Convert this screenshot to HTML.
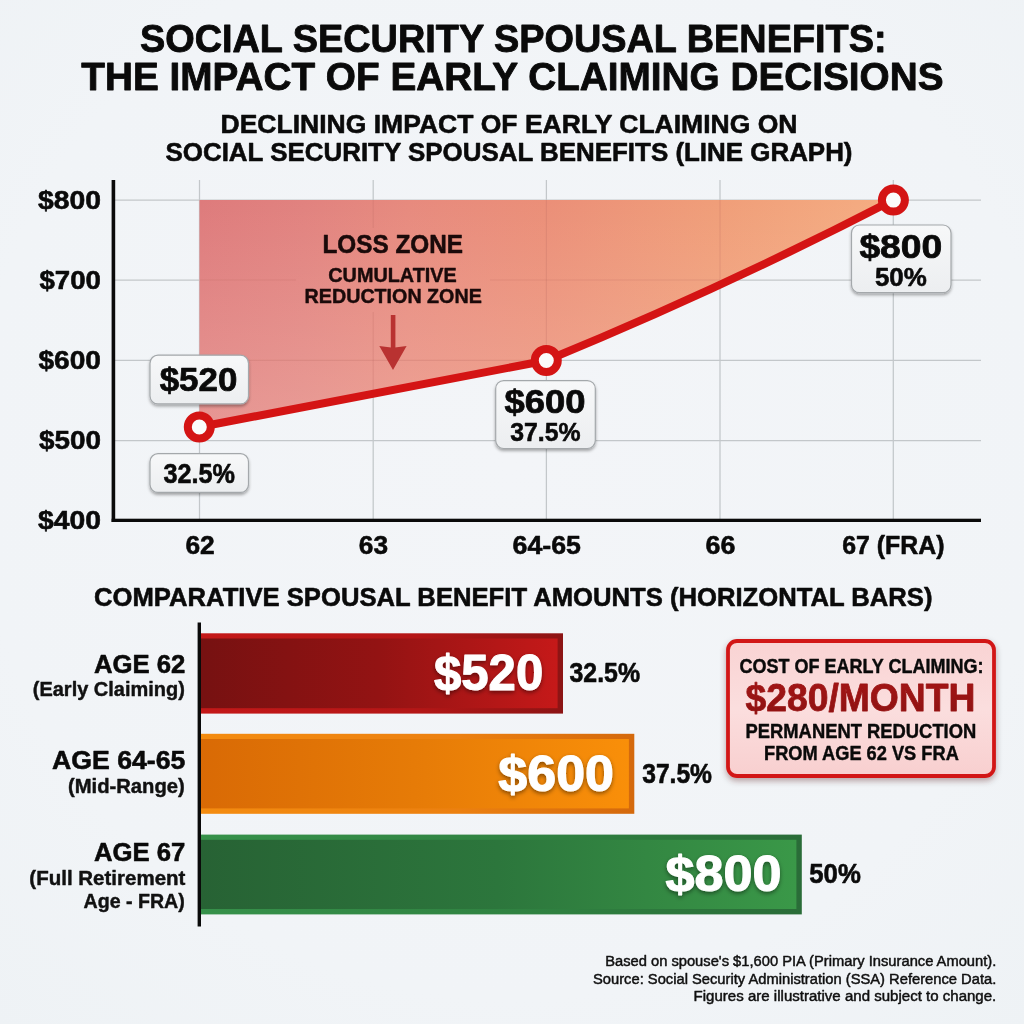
<!DOCTYPE html>
<html lang="en"><head><meta charset="utf-8">
<title>Social Security Spousal Benefits: The Impact of Early Claiming Decisions</title>
<style>
html,body{margin:0;padding:0;background:#f1f4f7;}
body{width:1024px;height:1024px;overflow:hidden;}
svg{display:block;font-family:"Liberation Sans",sans-serif;}
</style></head><body>
<svg width="1024" height="1024" viewBox="0 0 1024 1024">
<defs>
<radialGradient id="bg" cx="50%" cy="45%" r="75%">
<stop offset="0" stop-color="#f3f5f8"/><stop offset="0.7" stop-color="#f1f4f7"/><stop offset="1" stop-color="#eef2f5"/>
</radialGradient>
<linearGradient id="zone" x1="200" y1="0" x2="893" y2="0" gradientUnits="userSpaceOnUse">
<stop offset="0" stop-color="#de7b7c"/><stop offset="0.15" stop-color="#e1827f"/><stop offset="0.3" stop-color="#e78a7e"/><stop offset="0.5" stop-color="#eb8f78"/><stop offset="0.75" stop-color="#f09e79"/><stop offset="1" stop-color="#f5ad82"/>
</linearGradient>
<linearGradient id="zoneV" x1="0" y1="200" x2="0" y2="430" gradientUnits="userSpaceOnUse">
<stop offset="0" stop-color="#ffe6d8" stop-opacity="0"/><stop offset="1" stop-color="#ffe6d8" stop-opacity="0.26"/>
</linearGradient>
<linearGradient id="r1o" x1="0" x2="1"><stop offset="0" stop-color="#c41818"/><stop offset="0.6" stop-color="#b41616"/><stop offset="1" stop-color="#8c1414"/></linearGradient>
<linearGradient id="r1i" x1="0" x2="1"><stop offset="0" stop-color="#761111"/><stop offset="0.5" stop-color="#931313"/><stop offset="1" stop-color="#c51919"/></linearGradient>
<linearGradient id="o1o" x1="0" x2="1"><stop offset="0" stop-color="#f48c10"/><stop offset="0.6" stop-color="#ec8010"/><stop offset="1" stop-color="#d4690c"/></linearGradient>
<linearGradient id="o1i" x1="0" x2="1"><stop offset="0" stop-color="#d96a05"/><stop offset="0.5" stop-color="#e67b07"/><stop offset="1" stop-color="#f98f09"/></linearGradient>
<linearGradient id="g1o" x1="0" x2="1"><stop offset="0" stop-color="#36914a"/><stop offset="0.6" stop-color="#2f8040"/><stop offset="1" stop-color="#2a6c38"/></linearGradient>
<linearGradient id="g1i" x1="0" x2="1"><stop offset="0" stop-color="#276234"/><stop offset="0.5" stop-color="#2c763c"/><stop offset="1" stop-color="#3a9848"/></linearGradient>
<linearGradient id="lbox" x1="0" y1="0" x2="0" y2="1"><stop offset="0" stop-color="#f7f8f9"/><stop offset="1" stop-color="#eceef0"/></linearGradient>
<linearGradient id="ibox" x1="0" y1="0" x2="0" y2="1"><stop offset="0" stop-color="#f9d3d3"/><stop offset="0.5" stop-color="#fbdede"/><stop offset="1" stop-color="#f8cfcf"/></linearGradient>
<linearGradient id="big" x1="0" y1="0" x2="0" y2="1"><stop offset="0" stop-color="#a81616"/><stop offset="1" stop-color="#8a1212"/></linearGradient>
<filter id="sh" x="-20%" y="-20%" width="140%" height="160%"><feDropShadow dx="0" dy="2" stdDeviation="1.6" flood-color="#000" flood-opacity="0.33"/></filter>
<filter id="sh2" x="-20%" y="-20%" width="140%" height="160%"><feDropShadow dx="0" dy="3" stdDeviation="3" flood-color="#400" flood-opacity="0.35"/></filter>
<filter id="tsh" x="-20%" y="-20%" width="140%" height="150%"><feDropShadow dx="0" dy="2" stdDeviation="2" flood-color="#000" flood-opacity="0.45"/></filter>
</defs>
<rect width="1024" height="1024" fill="url(#bg)"/>

<text x="140.0" y="51.8" font-size="39" font-weight="700" fill="#0a0a0a" textLength="746.5" lengthAdjust="spacingAndGlyphs" stroke="#0a0a0a" stroke-width="0.86" stroke-linejoin="round">SOCIAL SECURITY SPOUSAL BENEFITS:</text>
<text x="81.3" y="89.9" font-size="38.5" font-weight="700" fill="#0a0a0a" textLength="862.2" lengthAdjust="spacingAndGlyphs" stroke="#0a0a0a" stroke-width="0.85" stroke-linejoin="round">THE IMPACT OF EARLY CLAIMING DECISIONS</text>
<text x="220.5" y="132.8" font-size="26" font-weight="700" fill="#0a0a0a" textLength="577.0" lengthAdjust="spacingAndGlyphs" stroke="#0a0a0a" stroke-width="0.57" stroke-linejoin="round">DECLINING IMPACT OF EARLY CLAIMING ON</text>
<text x="165.5" y="160.8" font-size="26" font-weight="700" fill="#0a0a0a" textLength="687.0" lengthAdjust="spacingAndGlyphs" stroke="#0a0a0a" stroke-width="0.57" stroke-linejoin="round">SOCIAL SECURITY SPOUSAL BENEFITS (LINE GRAPH)</text>
<g stroke="#c3c7ca" stroke-width="1.25" fill="none">
<line x1="199.5" y1="180" x2="199.5" y2="519"/>
<line x1="373.2" y1="180" x2="373.2" y2="519"/>
<line x1="546.4" y1="180" x2="546.4" y2="519"/>
<line x1="720" y1="180" x2="720" y2="519"/>
<line x1="893.3" y1="180" x2="893.3" y2="519"/>
<line x1="115" y1="200" x2="981" y2="200"/>
<line x1="115" y1="280" x2="981" y2="280"/>
<line x1="115" y1="360.3" x2="981" y2="360.3"/>
<line x1="115" y1="440.5" x2="981" y2="440.5"/>
</g>
<path d="M199.5,200 L893.3,200 Q723.3,287.8 546.4,360.5 L199.5,427 Z" fill="url(#zone)"/>
<path d="M199.5,200 L893.3,200 Q723.3,287.8 546.4,360.5 L199.5,427 Z" fill="url(#zoneV)"/>
<g stroke="#b86a62" stroke-opacity="0.24" stroke-width="1.2">
<line x1="373.2" y1="200" x2="373.2" y2="228"/><line x1="373.2" y1="312" x2="373.2" y2="393"/><line x1="546.4" y1="200" x2="546.4" y2="360"/><line x1="720" y1="200" x2="720" y2="280"/>
<line x1="200" y1="280" x2="296" y2="280"/><line x1="490" y1="280" x2="720" y2="280"/><line x1="200" y1="360.3" x2="546" y2="360.3"/>
</g>
<rect x="111.6" y="180" width="3.6" height="342" fill="#0a0a0a"/>
<rect x="111.6" y="518.7" width="869.4" height="3.3" fill="#0a0a0a"/>
<text x="38.0" y="209.2" font-size="26.5" font-weight="700" fill="#0a0a0a" textLength="63.0" lengthAdjust="spacingAndGlyphs" stroke="#0a0a0a" stroke-width="0.58" stroke-linejoin="round">$800</text>
<text x="39.5" y="289.2" font-size="26.5" font-weight="700" fill="#0a0a0a" textLength="61.5" lengthAdjust="spacingAndGlyphs" stroke="#0a0a0a" stroke-width="0.58" stroke-linejoin="round">$700</text>
<text x="38.5" y="369.0" font-size="26.5" font-weight="700" fill="#0a0a0a" textLength="62.5" lengthAdjust="spacingAndGlyphs" stroke="#0a0a0a" stroke-width="0.58" stroke-linejoin="round">$600</text>
<text x="39.0" y="449.1" font-size="26.5" font-weight="700" fill="#0a0a0a" textLength="62.0" lengthAdjust="spacingAndGlyphs" stroke="#0a0a0a" stroke-width="0.58" stroke-linejoin="round">$500</text>
<text x="38.0" y="528.8" font-size="26.5" font-weight="700" fill="#0a0a0a" textLength="63.0" lengthAdjust="spacingAndGlyphs" stroke="#0a0a0a" stroke-width="0.58" stroke-linejoin="round">$400</text>
<text x="185.4" y="554.2" font-size="25" font-weight="700" fill="#0a0a0a" textLength="29.3" lengthAdjust="spacingAndGlyphs" stroke="#0a0a0a" stroke-width="0.55" stroke-linejoin="round">62</text>
<text x="358.8" y="554.2" font-size="25" font-weight="700" fill="#0a0a0a" textLength="29.2" lengthAdjust="spacingAndGlyphs" stroke="#0a0a0a" stroke-width="0.55" stroke-linejoin="round">63</text>
<text x="512.6" y="554.2" font-size="25" font-weight="700" fill="#0a0a0a" textLength="68.4" lengthAdjust="spacingAndGlyphs" stroke="#0a0a0a" stroke-width="0.55" stroke-linejoin="round">64-65</text>
<text x="705.6" y="554.2" font-size="25" font-weight="700" fill="#0a0a0a" textLength="29.8" lengthAdjust="spacingAndGlyphs" stroke="#0a0a0a" stroke-width="0.55" stroke-linejoin="round">66</text>
<text x="842.2" y="554.2" font-size="25" font-weight="700" fill="#0a0a0a" textLength="102.3" lengthAdjust="spacingAndGlyphs" stroke="#0a0a0a" stroke-width="0.55" stroke-linejoin="round">67 (FRA)</text>
<text x="322.5" y="252.5" font-size="25.5" font-weight="700" fill="#1a0a0a" textLength="140.5" lengthAdjust="spacingAndGlyphs" stroke="#1a0a0a" stroke-width="0.56" stroke-linejoin="round">LOSS ZONE</text>
<text x="328.3" y="281.8" font-size="20.8" font-weight="700" fill="#1a0a0a" textLength="128.4" lengthAdjust="spacingAndGlyphs" stroke="#1a0a0a" stroke-width="0.46" stroke-linejoin="round">CUMULATIVE</text>
<text x="304.6" y="303.4" font-size="20.8" font-weight="700" fill="#1a0a0a" textLength="177.2" lengthAdjust="spacingAndGlyphs" stroke="#1a0a0a" stroke-width="0.46" stroke-linejoin="round">REDUCTION ZONE</text>
<g fill="#b52a2a" opacity="0.92"><rect x="390.8" y="315" width="4.6" height="33"/><polygon points="379.3,346 393,347.8 406.6,346 393,370"/></g>
<path d="M199.5,427 L546.4,360.5 Q723.3,287.8 893.3,200" fill="none" stroke="#d41414" stroke-width="8" stroke-linejoin="round" stroke-linecap="round"/>
<circle cx="199.3" cy="427" r="11.5" fill="#fbfbfb" stroke="#d41414" stroke-width="8"/>
<circle cx="546.3" cy="360.5" r="11.5" fill="#fbfbfb" stroke="#d41414" stroke-width="8"/>
<circle cx="893.4" cy="200.1" r="11.5" fill="#fbfbfb" stroke="#d41414" stroke-width="8"/>
<rect x="150" y="355.2" width="98.5" height="48.7" rx="8" ry="8" fill="url(#lbox)" stroke="#a4a8ab" stroke-width="1.2" filter="url(#sh)"/>
<text x="159.7" y="390.6" font-size="33.5" font-weight="700" fill="#0a0a0a" textLength="77.6" lengthAdjust="spacingAndGlyphs" stroke="#0a0a0a" stroke-width="0.74" stroke-linejoin="round">$520</text>
<rect x="150" y="453.7" width="98.5" height="38.7" rx="8" ry="8" fill="url(#lbox)" stroke="#a4a8ab" stroke-width="1.2" filter="url(#sh)"/>
<text x="163.5" y="483.0" font-size="27.5" font-weight="700" fill="#0a0a0a" textLength="71.5" lengthAdjust="spacingAndGlyphs" stroke="#0a0a0a" stroke-width="0.6" stroke-linejoin="round">32.5%</text>
<rect x="495.7" y="380.6" width="99.6" height="67.9" rx="8" ry="8" fill="url(#lbox)" stroke="#a4a8ab" stroke-width="1.2" filter="url(#sh)"/>
<text x="504.5" y="413.0" font-size="33.5" font-weight="700" fill="#0a0a0a" textLength="81.1" lengthAdjust="spacingAndGlyphs" stroke="#0a0a0a" stroke-width="0.74" stroke-linejoin="round">$600</text>
<text x="510.3" y="440.8" font-size="25.5" font-weight="700" fill="#0a0a0a" textLength="70.3" lengthAdjust="spacingAndGlyphs" stroke="#0a0a0a" stroke-width="0.56" stroke-linejoin="round">37.5%</text>
<rect x="851.5" y="225" width="99.5" height="67.7" rx="8" ry="8" fill="url(#lbox)" stroke="#a4a8ab" stroke-width="1.2" filter="url(#sh)"/>
<text x="859.4" y="257.8" font-size="33.5" font-weight="700" fill="#0a0a0a" textLength="82.9" lengthAdjust="spacingAndGlyphs" stroke="#0a0a0a" stroke-width="0.74" stroke-linejoin="round">$800</text>
<text x="874.9" y="285.6" font-size="25.5" font-weight="700" fill="#0a0a0a" textLength="51.9" lengthAdjust="spacingAndGlyphs" stroke="#0a0a0a" stroke-width="0.56" stroke-linejoin="round">50%</text>
<text x="94.0" y="605.6" font-size="26" font-weight="700" fill="#0a0a0a" textLength="838.5" lengthAdjust="spacingAndGlyphs" stroke="#0a0a0a" stroke-width="0.57" stroke-linejoin="round">COMPARATIVE SPOUSAL BENEFIT AMOUNTS (HORIZONTAL BARS)</text>
<rect x="199" y="633.3" width="364.0" height="80.3" fill="url(#r1o)"/>
<rect x="199" y="638.5" width="358.6" height="69.7" fill="url(#r1i)"/>
<rect x="199" y="733.8" width="435.3" height="80.0" fill="url(#o1o)"/>
<rect x="199" y="739.0" width="429.9" height="69.4" fill="url(#o1i)"/>
<rect x="199" y="834.6" width="602.8" height="79.8" fill="url(#g1o)"/>
<rect x="199" y="839.8000000000001" width="597.4" height="69.2" fill="url(#g1i)"/>
<rect x="197.6" y="622.5" width="3.4" height="304" fill="#0a0a0a"/>
<g filter="url(#tsh)">
<text x="434.0" y="689.7" font-size="50" font-weight="700" fill="#ffffff" textLength="109.2" lengthAdjust="spacingAndGlyphs" stroke="#ffffff" stroke-width="1.1" stroke-linejoin="round">$520</text>
<text x="498.3" y="791.0" font-size="50" font-weight="700" fill="#ffffff" textLength="115.7" lengthAdjust="spacingAndGlyphs" stroke="#ffffff" stroke-width="1.1" stroke-linejoin="round">$600</text>
<text x="665.4" y="891.2" font-size="50" font-weight="700" fill="#ffffff" textLength="116.0" lengthAdjust="spacingAndGlyphs" stroke="#ffffff" stroke-width="1.1" stroke-linejoin="round">$800</text>
</g>
<text x="569.5" y="682.3" font-size="27" font-weight="700" fill="#0a0a0a" textLength="70.5" lengthAdjust="spacingAndGlyphs" stroke="#0a0a0a" stroke-width="0.59" stroke-linejoin="round">32.5%</text>
<text x="642.2" y="783.2" font-size="27" font-weight="700" fill="#0a0a0a" textLength="69.8" lengthAdjust="spacingAndGlyphs" stroke="#0a0a0a" stroke-width="0.59" stroke-linejoin="round">37.5%</text>
<text x="809.3" y="883.2" font-size="27" font-weight="700" fill="#0a0a0a" textLength="51.5" lengthAdjust="spacingAndGlyphs" stroke="#0a0a0a" stroke-width="0.59" stroke-linejoin="round">50%</text>
<text x="94.0" y="672.6" font-size="26" font-weight="700" fill="#0a0a0a" textLength="91.4" lengthAdjust="spacingAndGlyphs" stroke="#0a0a0a" stroke-width="0.57" stroke-linejoin="round">AGE 62</text>
<text x="32.8" y="695.5" font-size="20.2" font-weight="700" fill="#111" textLength="152.0" lengthAdjust="spacingAndGlyphs" stroke="#111" stroke-width="0.44" stroke-linejoin="round">(Early Claiming)</text>
<text x="52.0" y="769.3" font-size="26" font-weight="700" fill="#0a0a0a" textLength="133.4" lengthAdjust="spacingAndGlyphs" stroke="#0a0a0a" stroke-width="0.57" stroke-linejoin="round">AGE 64-65</text>
<text x="68.0" y="793.4" font-size="20.2" font-weight="700" fill="#111" textLength="116.8" lengthAdjust="spacingAndGlyphs" stroke="#111" stroke-width="0.44" stroke-linejoin="round">(Mid-Range)</text>
<text x="94.0" y="861.4" font-size="26" font-weight="700" fill="#0a0a0a" textLength="91.4" lengthAdjust="spacingAndGlyphs" stroke="#0a0a0a" stroke-width="0.57" stroke-linejoin="round">AGE 67</text>
<text x="29.3" y="885.2" font-size="20.2" font-weight="700" fill="#111" textLength="156.1" lengthAdjust="spacingAndGlyphs" stroke="#111" stroke-width="0.44" stroke-linejoin="round">(Full Retirement</text>
<text x="83.5" y="908.4" font-size="20.2" font-weight="700" fill="#111" textLength="101.3" lengthAdjust="spacingAndGlyphs" stroke="#111" stroke-width="0.44" stroke-linejoin="round">Age - FRA)</text>
<rect x="728" y="641" width="266" height="135" rx="9" ry="9" fill="url(#ibox)" stroke="#d21818" stroke-width="3.8" filter="url(#sh2)"/>
<text x="739.5" y="672.9" font-size="20.5" font-weight="700" fill="#0a0a0a" textLength="244.0" lengthAdjust="spacingAndGlyphs" stroke="#0a0a0a" stroke-width="0.45" stroke-linejoin="round">COST OF EARLY CLAIMING:</text>
<text x="745.5" y="710.8" font-size="38.5" font-weight="700" fill="url(#big)" textLength="230.0" lengthAdjust="spacingAndGlyphs" stroke="#991414" stroke-width="0.8" stroke-linejoin="round">$280/MONTH</text>
<text x="745.5" y="737.7" font-size="19.5" font-weight="700" fill="#0a0a0a" textLength="230.8" lengthAdjust="spacingAndGlyphs" stroke="#0a0a0a" stroke-width="0.43" stroke-linejoin="round">PERMANENT REDUCTION</text>
<text x="764.0" y="759.8" font-size="19.5" font-weight="700" fill="#0a0a0a" textLength="194.8" lengthAdjust="spacingAndGlyphs" stroke="#0a0a0a" stroke-width="0.43" stroke-linejoin="round">FROM AGE 62 VS FRA</text>
<text x="605.2" y="966.2" font-size="14" font-weight="400" fill="#101010" textLength="391.1" lengthAdjust="spacingAndGlyphs" stroke="#101010" stroke-width="0.45" stroke-linejoin="round">Based on spouse's $1,600 PIA (Primary Insurance Amount).</text>
<text x="593.0" y="983.8" font-size="14" font-weight="400" fill="#101010" textLength="403.3" lengthAdjust="spacingAndGlyphs" stroke="#101010" stroke-width="0.45" stroke-linejoin="round">Source: Social Security Administration (SSA) Reference Data.</text>
<text x="693.6" y="1001.4" font-size="14" font-weight="400" fill="#101010" textLength="302.7" lengthAdjust="spacingAndGlyphs" stroke="#101010" stroke-width="0.45" stroke-linejoin="round">Figures are illustrative and subject to change.</text>
</svg></body></html>
